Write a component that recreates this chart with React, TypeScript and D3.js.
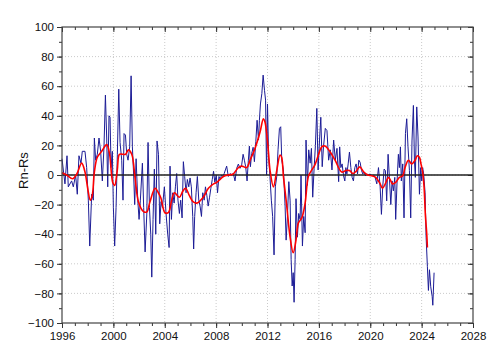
import * as React from "react";
import * as d3 from "d3";
import { select, axisBottom, axisLeft } from "d3";

// [decimal year, Rn-Rs], roughly monthly
const rawSeries: [number, number][] = [
  [1996.0, 11], [1996.23, -6], [1996.39, 13], [1996.49, -8], [1996.75, -4], [1996.88, -8],
  [1997.06, 0], [1997.19, -13], [1997.32, 13], [1997.48, 8], [1997.58, 16], [1997.79, 16],
  [1997.92, 5], [1998.05, -17], [1998.16, -48], [1998.31, -13], [1998.44, -17], [1998.52, 25],
  [1998.62, 10], [1998.75, 14], [1998.88, 25], [1999.01, 16], [1999.14, -4], [1999.27, 19],
  [1999.38, 54], [1999.48, 25], [1999.56, -8], [1999.66, 40], [1999.74, 39], [1999.82, 5],
  [1999.92, 16], [2000.0, -22], [2000.1, -48], [2000.21, -22], [2000.31, 14], [2000.42, 58],
  [2000.52, 22], [2000.65, 10], [2000.75, -17], [2000.83, 28], [2000.94, 27], [2001.04, 14],
  [2001.14, 10], [2001.27, 19], [2001.38, 67], [2001.48, 19], [2001.58, 0], [2001.66, -20],
  [2001.77, 11], [2001.9, -17], [2002.0, -30], [2002.1, -17], [2002.26, 8], [2002.36, -22],
  [2002.47, -52], [2002.6, -27], [2002.7, 22], [2002.81, -22], [2002.91, -40], [2002.99, -69],
  [2003.09, -30], [2003.19, 4], [2003.3, -40], [2003.4, 23], [2003.51, 14], [2003.61, -33],
  [2003.71, -18], [2003.82, -22], [2003.97, -8], [2004.1, -26], [2004.23, -40], [2004.34, -49],
  [2004.41, 6], [2004.52, -30], [2004.62, -12], [2004.73, -19], [2004.83, -8], [2004.93, 1],
  [2005.03, -17], [2005.14, -26], [2005.24, -17], [2005.35, -29], [2005.45, 9], [2005.55, -1],
  [2005.66, -12], [2005.76, -3], [2005.87, -8], [2005.97, -2], [2006.07, -8], [2006.18, -28],
  [2006.25, -50], [2006.33, -28], [2006.44, -12], [2006.54, -1], [2006.65, -17], [2006.75, -21],
  [2006.86, -28], [2006.96, -12], [2007.07, -17], [2007.17, -8], [2007.28, -14], [2007.38, -21],
  [2007.49, -15], [2007.59, -9], [2007.7, -3], [2007.8, 2.5], [2007.9, -5], [2008.01, 0],
  [2008.11, -12], [2008.22, -1], [2008.32, -3], [2008.42, 0], [2008.53, -1], [2008.63, 1],
  [2008.72, 3.4], [2008.82, 6], [2008.95, -1], [2009.08, 1], [2009.21, 0], [2009.34, 1],
  [2009.47, -4], [2009.6, 4.5], [2009.73, 7.4], [2009.86, 4.5], [2009.99, 6.8], [2010.1, 14],
  [2010.2, 10], [2010.3, 5.6], [2010.41, -4], [2010.51, 10], [2010.59, 19.5], [2010.67, 5.6],
  [2010.77, 14.6], [2010.88, 18.7], [2010.98, 9], [2011.09, 22.5], [2011.19, 37], [2011.3, 23.6],
  [2011.37, 37], [2011.45, 48], [2011.56, 55], [2011.66, 67.5], [2011.77, 57], [2011.85, 50.6],
  [2011.93, 0], [2012.0, 48], [2012.09, 12], [2012.19, -1], [2012.3, -17], [2012.4, -28],
  [2012.51, -54], [2012.61, -8], [2012.72, -1], [2012.82, 17], [2012.93, 31.5], [2013.03, 32.6],
  [2013.11, 10], [2013.24, 3.4], [2013.37, -21], [2013.45, -44], [2013.55, -28], [2013.66, -4.5],
  [2013.76, -17], [2013.84, -57], [2013.92, -75], [2014.0, -66], [2014.07, -86], [2014.15, -57],
  [2014.22, -16], [2014.33, -42], [2014.43, -26], [2014.54, -30], [2014.61, 0], [2014.72, -48],
  [2014.82, -28], [2014.93, -39], [2015.0, 23.6], [2015.11, -7], [2015.21, 17], [2015.32, 8],
  [2015.42, 18], [2015.52, -15], [2015.63, 4.5], [2015.73, 20], [2015.84, 45], [2015.94, 3.4],
  [2016.05, 23.6], [2016.15, 39], [2016.26, 5.6], [2016.36, 19], [2016.5, 31.5], [2016.63, 30],
  [2016.76, 10], [2016.89, 17], [2017.02, 3.4], [2017.15, 23.6], [2017.28, 10], [2017.41, 18],
  [2017.54, -4.5], [2017.62, 19], [2017.71, 5], [2017.81, 7.5], [2017.92, -0.5], [2018.02, -4],
  [2018.1, 5], [2018.18, 0.7], [2018.28, 7.5], [2018.38, 15.5], [2018.49, 5], [2018.59, -1.6],
  [2018.69, -4], [2018.8, 5], [2018.9, 7.5], [2019.01, 0.7], [2019.11, 10], [2019.21, 8.6],
  [2019.32, 3], [2019.42, 0.7], [2019.52, 2], [2019.63, -0.5], [2019.73, 0.7], [2019.86, 0],
  [2019.99, 0.7], [2020.12, -0.5], [2020.25, 0], [2020.38, -1.6], [2020.51, -6], [2020.64, 5],
  [2020.77, -8], [2020.87, -26.6], [2020.97, -8], [2021.08, 4], [2021.18, 3], [2021.28, -17.5],
  [2021.39, 14], [2021.49, -1.6], [2021.6, -20], [2021.7, -4], [2021.8, -10.7], [2021.91, -1.6],
  [2021.98, -30], [2022.09, -4], [2022.19, 14], [2022.27, 5], [2022.35, 19], [2022.42, -4],
  [2022.53, 7.5], [2022.63, -29], [2022.74, 28], [2022.84, 38], [2022.94, 19], [2023.05, 3],
  [2023.15, -29], [2023.25, 23], [2023.36, 47], [2023.44, 10], [2023.51, -1.6], [2023.62, 46],
  [2023.72, 25.7], [2023.83, -13], [2023.93, 5], [2024.01, -4], [2024.08, 5], [2024.16, 0.7],
  [2024.27, -12], [2024.35, -42], [2024.45, -62], [2024.53, -78], [2024.61, -64], [2024.71, -75.5],
  [2024.82, -82], [2024.87, -88], [2024.97, -66],
];

// smoothed curve (red)
const smoothSeries: [number, number][] = [
  [1996.0, 1.5], [1996.36, 0], [1996.83, -2.5], [1997.14, 0.5], [1997.53, 8], [1997.79, 2],
  [1998.0, -9], [1998.2, -17], [1998.35, -14], [1998.52, 2], [1998.75, 12], [1999.09, 16],
  [1999.48, 20.5], [1999.69, 15], [1999.95, -5], [2000.1, -7], [2000.3, 3], [2000.47, 14],
  [2000.7, 14], [2000.95, 14], [2001.17, 17], [2001.43, 14], [2001.69, -2], [2001.95, -18],
  [2002.33, -24.5], [2002.6, -25], [2002.85, -18], [2003.25, -9], [2003.5, -12], [2003.7, -15.5],
  [2004.02, -25.5], [2004.28, -25.5], [2004.54, -17], [2004.75, -12], [2005.14, -15], [2005.4, -11],
  [2005.62, -9], [2005.92, -14], [2006.2, -18], [2006.49, -19], [2007.0, -15], [2007.4, -9],
  [2007.8, -6], [2008.05, -5], [2008.57, -1], [2008.9, 0], [2009.3, 0.5], [2009.73, 5],
  [2010.0, 6], [2010.38, 5], [2010.64, 10], [2011.03, 18], [2011.42, 29], [2011.68, 38],
  [2011.8, 36], [2012.02, 21], [2012.2, 3], [2012.46, -8], [2012.72, 3], [2012.98, 13.5],
  [2013.1, 12], [2013.24, -1], [2013.5, -21], [2013.76, -42], [2014.0, -52.5], [2014.22, -44],
  [2014.4, -32.5], [2014.67, -29], [2014.93, -19], [2015.18, -1], [2015.45, 3.4], [2015.7, 7],
  [2015.96, 13.5], [2016.22, 19], [2016.48, 19.6], [2016.87, 15.7], [2017.26, 10], [2017.78, 2],
  [2018.1, 3], [2018.38, 3], [2018.64, 1], [2018.9, 2.5], [2019.18, 5.5], [2019.5, 2],
  [2019.8, 0], [2020.12, -0.5], [2020.43, -1.6], [2020.77, -6], [2020.95, -9], [2021.17, -6],
  [2021.43, -1.6], [2021.74, -6], [2021.98, -5], [2022.27, -1.6], [2022.53, -0.5], [2022.71, 5],
  [2022.97, 10], [2023.23, 7.5], [2023.49, 10], [2023.67, 13], [2023.83, 12], [2023.95, 7.5],
  [2024.08, 2], [2024.19, -8], [2024.29, -26.6], [2024.4, -40], [2024.45, -49],
];

const yearTicks = [1996, 2000, 2004, 2008, 2012, 2016, 2020, 2024, 2028];
const yearMinor = d3.range(1996, 2029, 1);
const valueTicks = [-100, -80, -60, -40, -20, 0, 20, 40, 60, 80, 100];
const valueMinor = d3.range(-100, 101, 10);
const yLabel = "Rn-Rs";

const W = 500;
const H = 360;
const left = 62;
const right = 473;
const top = 27;
const bottom = 323;
const font = "'Liberation Sans', Arial, sans-serif";

function styleAxis(g: any, labels: boolean) {
  g.select(".domain").remove();
  g.selectAll(".tick line").attr("stroke", "#333");
  g.selectAll(".tick text")
    .attr("font-family", font)
    .attr("font-size", 11.5)
    .attr("fill", "#111");
  if (!labels) g.selectAll(".tick text").remove();
}

export default function App() {
  const x = d3.scaleLinear().domain([1996, 2028]).range([left, right]);
  const y = d3.scaleLinear().domain([-100, 100]).range([bottom, top]);

  const line = d3
    .line<[number, number]>()
    .x(d => x(d[0]))
    .y(d => y(d[1]));
  const smooth = d3
    .line<[number, number]>()
    .x(d => x(d[0]))
    .y(d => y(d[1]))
    .curve(d3.curveCatmullRom);

  return (
    <svg
      width={W}
      height={H}
      style={{ position: "absolute", left: 0, top: 0, background: "#fff" }}
    >
      {/* grid */}
      <g stroke="#bdbdbd" strokeWidth={0.8} strokeDasharray="1,2">
        {yearTicks.slice(1, -1).map(t => (
          <line key={"gx" + t} x1={x(t)} x2={x(t)} y1={top} y2={bottom} />
        ))}
        {valueTicks.slice(1, -1).map(t => (
          <line key={"gy" + t} x1={left} x2={right} y1={y(t)} y2={y(t)} />
        ))}
      </g>

      {/* bottom axis, ticks outward */}
      <g
        transform={`translate(0,${bottom})`}
        ref={node => {
          if (!node) return;
          select(node)
            .call(axisBottom(x).tickValues(yearMinor).tickSize(3).tickFormat(() => "") as any)
            .call((g: any) => styleAxis(g, false));
        }}
      />
      <g
        transform={`translate(0,${bottom})`}
        ref={node => {
          if (!node) return;
          select(node)
            .call(axisBottom(x).tickValues(yearTicks).tickSize(5).tickPadding(4).tickFormat(d3.format("d")) as any)
            .call((g: any) => styleAxis(g, true));
        }}
      />
      {/* top axis, ticks inward */}
      <g
        transform={`translate(0,${top})`}
        ref={node => {
          if (!node) return;
          select(node)
            .call(axisBottom(x).tickValues(yearMinor).tickSize(3) as any)
            .call((g: any) => styleAxis(g, false));
        }}
      />
      <g
        transform={`translate(0,${top})`}
        ref={node => {
          if (!node) return;
          select(node)
            .call(axisBottom(x).tickValues(yearTicks).tickSize(5) as any)
            .call((g: any) => styleAxis(g, false));
        }}
      />
      {/* left axis, ticks outward */}
      <g
        transform={`translate(${left},0)`}
        ref={node => {
          if (!node) return;
          select(node)
            .call(axisLeft(y).tickValues(valueMinor).tickSize(3) as any)
            .call((g: any) => styleAxis(g, false));
        }}
      />
      <g
        transform={`translate(${left},0)`}
        ref={node => {
          if (!node) return;
          select(node)
            .call(axisLeft(y).tickValues(valueTicks).tickSize(5).tickPadding(3).tickFormat(d3.format("d")) as any)
            .call((g: any) => styleAxis(g, true));
        }}
      />
      {/* right axis, ticks inward */}
      <g
        transform={`translate(${right},0)`}
        ref={node => {
          if (!node) return;
          select(node)
            .call(axisLeft(y).tickValues(valueMinor).tickSize(3) as any)
            .call((g: any) => styleAxis(g, false));
        }}
      />
      <g
        transform={`translate(${right},0)`}
        ref={node => {
          if (!node) return;
          select(node)
            .call(axisLeft(y).tickValues(valueTicks).tickSize(5) as any)
            .call((g: any) => styleAxis(g, false));
        }}
      />

      {/* data */}
      <path d={line(rawSeries) as string} fill="none" stroke="#1c1c96" strokeWidth={1} strokeLinejoin="round" />
      <line x1={x(1996)} x2={x(2028)} y1={y(0)} y2={y(0)} stroke="#222" strokeWidth={1.3} />
      <path d={smooth(smoothSeries) as string} fill="none" stroke="#ff0000" strokeWidth={1.6} />

      {/* frame */}
      <rect x={left} y={top} width={right - left} height={bottom - top} fill="none" stroke="#444" strokeWidth={1.2} />

      <text
        transform={`translate(28,${y(3)}) rotate(-90)`}
        textAnchor="middle"
        fontFamily={font}
        fontSize={13}
        fill="#111"
      >
        {yLabel}
      </text>
    </svg>
  );
}
